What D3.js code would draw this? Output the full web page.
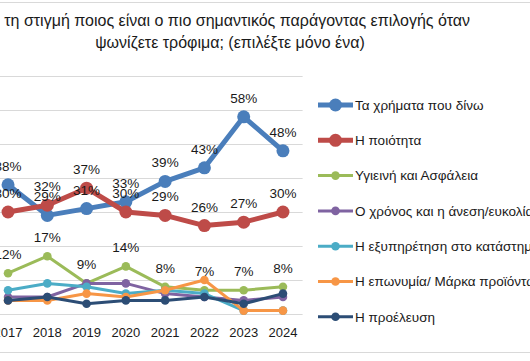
<!DOCTYPE html>
<html lang="el">
<head>
  <meta charset="UTF-8">
  <title>Παράγοντας επιλογής</title>
  <script src="https://d3js.org/d3.v7.min.js"></script>
  <style>
    * { margin: 0; padding: 0; }
    body { background-color: #fff; overflow: hidden; }
    svg { display: block; font-family: "Liberation Sans", Arial, sans-serif; }
  </style>
</head>
<body>
  <svg id="chart" width="530" height="361"></svg>

  <script>
    // δεδομένα
    var years = ["2017", "2018", "2019", "2020", "2021", "2022", "2023", "2024"];
    var names = [
      "Τα χρήματα που δίνω",
      "Η ποιότητα",
      "Υγιεινή και Ασφάλεια",
      "Ο χρόνος και η άνεση/ευκολία",
      "Η εξυπηρέτηση στο κατάστημα",
      "Η επωνυμία/ Μάρκα προϊόντων",
      "Η προέλευση"
    ];
    var money   = [38, 29, 31, 33, 39, 43, 58, 48];
    var quality = [30, 32, 37, 30, 29, 26, 27, 30];
    var hygiene = [12, 17, 9, 14, 8, 7, 7, 8];
    var time    = [5, 5, 9, 9, 6, 5, 4, 5];
    var service = [7, 9, 8, 6, 7, 6, 1, 1];
    var brand   = [4, 4, 6, 5, 7, 10, 1, 1];
    var origin  = [4, 5, 3, 4, 4, 5, 3, 6];
    var yTicks  = [0, 10, 20, 30, 40, 50, 60, 70];

    var colors = ["#4a7ebb", "#be4b48", "#9bbb59", "#7f63a1", "#4bacc6", "#f79646", "#2c4d75"];
    var series = [money, quality, hygiene, time, service, brand, origin];
    var labelled = [true, true, true, false, false, false, false];

    var svg = d3.select("#chart");

    // πλαίσιο
    svg.append("line").attr("x1", 0).attr("x2", 530).attr("y1", 2.5).attr("y2", 2.5)
      .attr("stroke", "#d9d9d9");
    svg.append("line").attr("x1", 0).attr("x2", 530).attr("y1", 352.5).attr("y2", 352.5)
      .attr("stroke", "#d9d9d9");

    // τίτλος
    svg.append("text").attr("x", 470).attr("y", 26).attr("text-anchor", "end")
      .attr("font-size", 16).attr("fill", "#1a1a1a")
      .text("Αυτή τη στιγμή ποιος είναι ο πιο σημαντικός παράγοντας επιλογής όταν");
    svg.append("text").attr("x", 230).attr("y", 48).attr("text-anchor", "middle")
      .attr("font-size", 16).attr("fill", "#1a1a1a")
      .text("ψωνίζετε τρόφιμα; (επιλέξτε μόνο ένα)");

    var x = d3.scaleBand().domain(years).range([-11.6, 302.6]);
    var y = d3.scaleLinear().domain([0, 70]).range([314, 76]);
    var cx = function(i) { return x(years[i]) + x.bandwidth() / 2; };

    // πλέγμα
    svg.append("g").selectAll("line").data(yTicks).join("line")
      .attr("x1", x.range()[0]).attr("x2", x.range()[1])
      .attr("y1", function(d) { return Math.round(y(d)) + 0.5; })
      .attr("y2", function(d) { return Math.round(y(d)) + 0.5; })
      .attr("stroke", "#d9d9d9");

    // άξονας x
    var xAxis = svg.append("g").attr("transform", "translate(0,314)")
      .call(d3.axisBottom(x).tickSize(0).tickPadding(14));
    xAxis.select(".domain").remove();
    xAxis.selectAll("text").attr("font-size", 13).attr("fill", "#1a1a1a")
      .attr("font-family", null);

    var line = d3.line().x(function(d, i) { return cx(i); }).y(function(d) { return y(d); });

    series.forEach(function(vals, k) {
      var big = k < 2;
      var g = svg.append("g");
      g.append("path").attr("d", line(vals)).attr("fill", "none")
        .attr("stroke", colors[k]).attr("stroke-width", big ? 5 : 3)
        .attr("stroke-linejoin", "round");
      g.selectAll("circle").data(vals).join("circle")
        .attr("cx", function(d, i) { return cx(i); })
        .attr("cy", function(d) { return y(d); })
        .attr("r", big ? 6.5 : 4.3)
        .attr("fill", colors[k]);
    });

    // ετικέτες τιμών
    series.forEach(function(vals, k) {
      if (!labelled[k]) return;
      svg.append("g").selectAll("text").data(vals).join("text")
        .attr("x", function(d, i) { return cx(i); })
        .attr("y", function(d) { return y(d) - 14; })
        .attr("text-anchor", "middle").attr("font-size", 13.5).attr("fill", "#1a1a1a")
        .text(function(d) { return d + "%"; });
    });

    // υπόμνημα
    var leg = svg.append("g").selectAll("g").data(names).join("g")
      .attr("transform", function(d, i) { return "translate(318," + (105 + i * 35.3) + ")"; });
    leg.append("line").attr("x1", 0).attr("x2", 35)
      .attr("stroke", function(d, i) { return colors[i]; })
      .attr("stroke-width", function(d, i) { return i < 2 ? 5 : 3; });
    leg.append("circle").attr("cx", 17.5).attr("r", function(d, i) { return i < 2 ? 6.5 : 4.3; })
      .attr("fill", function(d, i) { return colors[i]; });
    leg.append("text").attr("x", 37).attr("dy", "0.35em")
      .attr("font-size", 13.5).attr("fill", "#1a1a1a")
      .text(function(d) { return d; });
  </script>
</body>
</html>
